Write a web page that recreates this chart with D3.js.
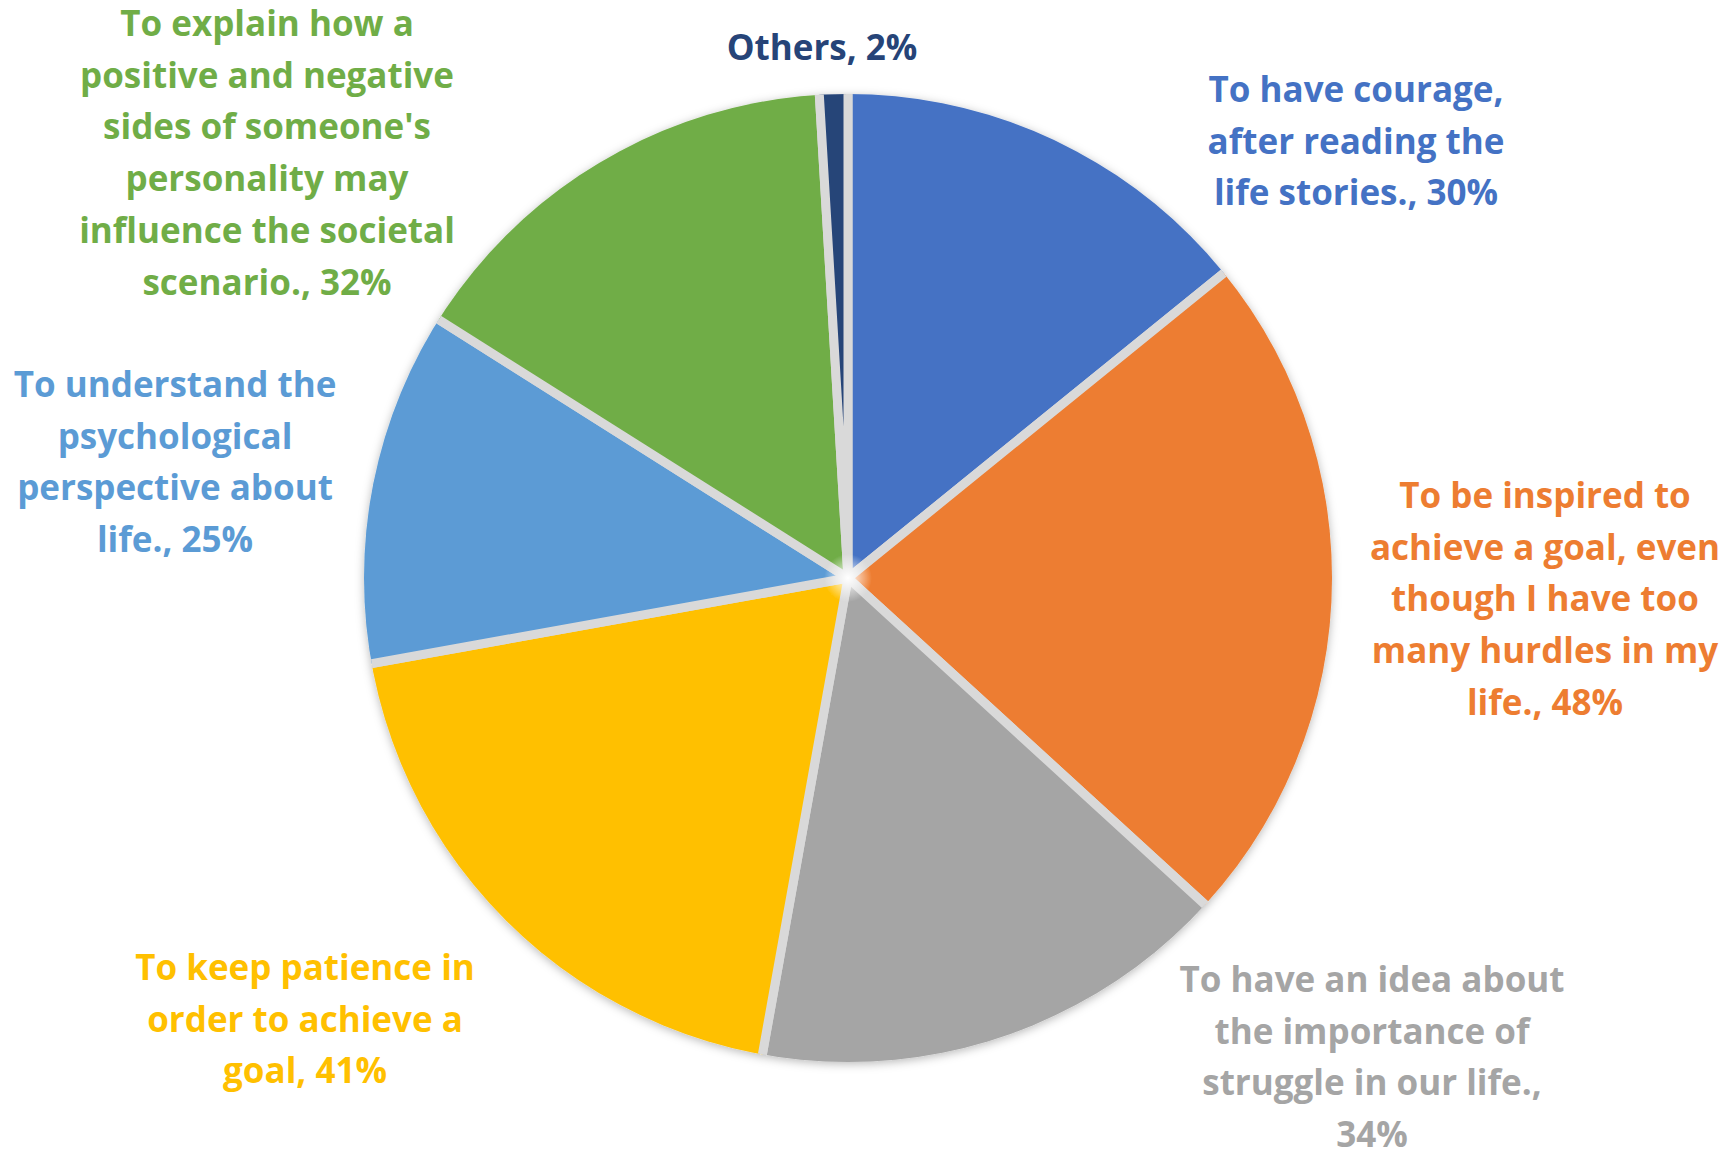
<!DOCTYPE html>
<html>
<head>
<meta charset="utf-8">
<script src="https://cdn.jsdelivr.net/npm/d3@7"></script>
<style>
  body { margin: 0; background: #fff; }
  svg text { font-family: "Open Sans", Lato, sans-serif; font-weight: bold; }
</style>
</head>
<body>
<script>
//chart data
var categories = [
    "To have courage, after reading the life stories.",
    "To be inspired to achieve a goal, even though I have too many hurdles in my life.",
    "To have an idea about the importance of struggle in our life.",
    "To keep patience in order to achieve a goal",
    "To understand the psychological perspective about life.",
    "To explain how a positive and negative sides of someone's personality may influence the societal scenario.",
    "Others"
];
var values = [30, 48, 34, 41, 25, 32, 2]; //percent of respondents
var colors = ["#4472C4", "#ED7D31", "#A5A5A5", "#FFC000", "#5B9BD5", "#70AD47", "#264478"];

//label text as wrapped in the picture
var labelLines = [
    ["To have courage,", "after reading the", "life stories., 30%"],
    ["To be inspired to", "achieve a goal, even", "though I have too", "many hurdles in my", "life., 48%"],
    ["To have an idea about", "the importance of", "struggle in our life.,", "34%"],
    ["To keep patience in", "order to achieve a", "goal, 41%"],
    ["To understand the", "psychological", "perspective about", "life., 25%"],
    ["To explain how a", "positive and negative", "sides of someone's", "personality may", "influence the societal", "scenario., 32%"],
    ["Others, 2%"]
];

//layout
var width = 1734,
    height = 1155,
    cx = 848,
    cy = 578,
    radius = 484,
    gap = 9,
    lineHeight = 51.7,
    fontSize = 35;

//label anchor: centre x and first baseline
var labelPos = [
    [1356, 102], [1545, 508], [1372, 992], [305, 980], [175, 397], [267, 36], [822, 60]
];

var svg = d3.select("body")
    .append("svg")
    .attr("width", width)
    .attr("height", height);

var defs = svg.append("defs");

var shadow = defs.append("filter")
    .attr("id", "shadow")
    .attr("x", "-10%").attr("y", "-10%")
    .attr("width", "120%").attr("height", "120%");
shadow.append("feDropShadow")
    .attr("dx", 0)
    .attr("dy", 2)
    .attr("stdDeviation", 5)
    .attr("flood-color", "#000")
    .attr("flood-opacity", 0.28);

defs.append("clipPath")
    .attr("id", "disc")
    .append("circle")
    .attr("r", radius);

var glow = defs.append("radialGradient")
    .attr("id", "glow");
glow.append("stop").attr("offset", "0%").attr("stop-color", "#ffffff").attr("stop-opacity", 1);
glow.append("stop").attr("offset", "100%").attr("stop-color", "#ffffff").attr("stop-opacity", 0);

var pie = d3.pie()
    .sort(null)
    .value(function(d){ return d; });

//slices drawn a bit larger and clipped, so the gray stroke only shows between them
var arc = d3.arc()
    .innerRadius(0)
    .outerRadius(radius + gap * 2);

var g = svg.append("g")
    .attr("transform", "translate(" + cx + "," + cy + ")")
    .attr("filter", "url(#shadow)");

var disc = g.append("g")
    .attr("clip-path", "url(#disc)");

disc.selectAll(".slice")
    .data(pie(values))
    .enter()
    .append("path")
    .attr("class", "slice")
    .attr("d", arc)
    .attr("fill", function(d, i){ return colors[i]; })
    .attr("stroke", "#d9d9d9")
    .attr("stroke-width", gap)
    .attr("stroke-linejoin", "round");

//white glow in the hub
disc.append("circle")
    .attr("r", 24)
    .attr("fill", "url(#glow)");

//data labels
var labels = svg.selectAll(".label")
    .data(labelLines)
    .enter()
    .append("text")
    .attr("class", "label")
    .attr("text-anchor", "middle")
    .attr("font-size", fontSize)
    .attr("fill", function(d, i){ return colors[i]; })
    .attr("transform", function(d, i){
        return "translate(" + labelPos[i][0] + "," + labelPos[i][1] + ")";
    });

labels.selectAll("tspan")
    .data(function(d){ return d; })
    .enter()
    .append("tspan")
    .attr("x", 0)
    .attr("y", function(d, i){ return i * lineHeight; })
    .text(function(d){ return d; });
</script>
</body>
</html>
